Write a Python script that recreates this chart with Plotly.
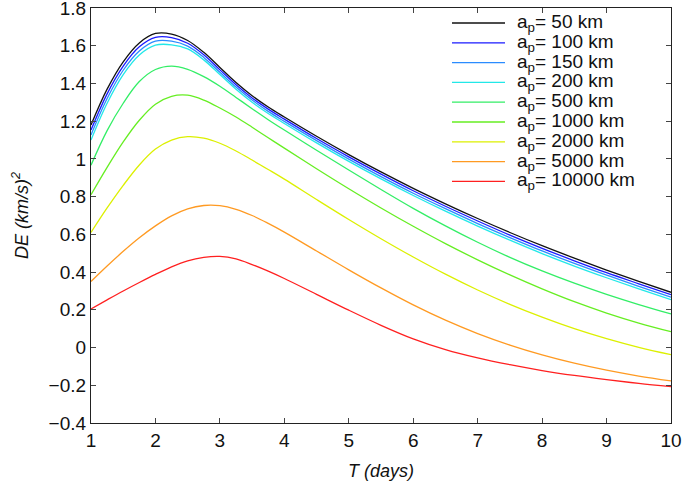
import plotly.graph_objects as go

T = [1, 1.25, 1.5, 1.75, 2, 2.25, 2.5, 2.75, 3, 3.25, 3.5, 3.75, 4,
     4.5, 5, 5.5, 6, 6.5, 7, 7.5, 8, 8.5, 9, 9.5, 10]

de_50 = [1.18, 1.37, 1.515, 1.615, 1.665, 1.662, 1.628, 1.565, 1.485, 1.405, 1.335, 1.275, 1.222,
         1.120, 1.023, 0.931, 0.844, 0.762, 0.684, 0.610, 0.540, 0.474, 0.411, 0.351, 0.293]
de_100 = [1.153, 1.345, 1.492, 1.594, 1.644, 1.643, 1.613, 1.552, 1.472, 1.393, 1.323, 1.264, 1.211,
          1.108, 1.011, 0.919, 0.831, 0.749, 0.671, 0.596, 0.526, 0.460, 0.397, 0.338, 0.280]
de_150 = [1.127, 1.320, 1.470, 1.572, 1.624, 1.624, 1.598, 1.538, 1.459, 1.381, 1.312, 1.252, 1.199,
          1.097, 0.999, 0.906, 0.818, 0.736, 0.657, 0.583, 0.512, 0.446, 0.384, 0.324, 0.267]
de_200 = [1.100, 1.295, 1.447, 1.551, 1.603, 1.605, 1.583, 1.525, 1.447, 1.369, 1.300, 1.241, 1.188,
          1.085, 0.987, 0.894, 0.806, 0.723, 0.644, 0.569, 0.498, 0.432, 0.370, 0.311, 0.254]
de_500 = [0.967, 1.15, 1.295, 1.41, 1.474, 1.492, 1.475, 1.436, 1.385, 1.326, 1.266, 1.208, 1.153,
          1.046, 0.941, 0.838, 0.738, 0.645, 0.558, 0.478, 0.406, 0.341, 0.282, 0.228, 0.178]
de_1000 = [0.81, 0.955, 1.09, 1.205, 1.29, 1.332, 1.338, 1.312, 1.270, 1.222, 1.168, 1.112, 1.057,
           0.948, 0.842, 0.740, 0.643, 0.551, 0.465, 0.385, 0.311, 0.243, 0.183, 0.130, 0.084]
de_2000 = [0.61, 0.74, 0.86, 0.968, 1.052, 1.100, 1.118, 1.110, 1.083, 1.042, 0.994, 0.944, 0.893,
           0.785, 0.679, 0.577, 0.480, 0.389, 0.305, 0.229, 0.161, 0.100, 0.047, 0.001, -0.038]
de_5000 = [0.35, 0.432, 0.51, 0.582, 0.645, 0.698, 0.735, 0.753, 0.752, 0.733, 0.700, 0.658, 0.612,
           0.512, 0.412, 0.316, 0.226, 0.145, 0.074, 0.013, -0.039, -0.083, -0.120, -0.151, -0.177]
de_10000 = [0.205, 0.253, 0.30, 0.345, 0.388, 0.428, 0.460, 0.478, 0.483, 0.470, 0.440, 0.405, 0.366,
            0.282, 0.198, 0.118, 0.046, -0.011, -0.055, -0.091, -0.122, -0.148, -0.170, -0.190, -0.207]

labels = ["50", "100", "150", "200", "500", "1000", "2000", "5000", "10000"]
series = [de_50, de_100, de_150, de_200, de_500, de_1000, de_2000, de_5000, de_10000]
colors = ["#111111", "#1a1aff", "#2a8cff", "#22e8e8", "#33ee66", "#66ee22",
          "#dcf000", "#ff9a22", "#ff2020"]

y_ticks = [-0.4, -0.2, 0, 0.2, 0.4, 0.6, 0.8, 1, 1.2, 1.4, 1.6, 1.8]
y_ticktext = ["\u22120.4", "\u22120.2", "0", "0.2", "0.4", "0.6", "0.8", "1", "1.2", "1.4", "1.6", "1.8"]
x_ticks = [1, 2, 3, 4, 5, 6, 7, 8, 9, 10]

W, H = 685, 484
ML, MR, MT, MB = 91, 14, 8, 61
PW, PH = W - ML - MR, H - MT - MB

fig = go.Figure()
for lab, ys, c in zip(labels, series, colors):
    fig.add_trace(go.Scatter(
        x=T, y=ys, mode="lines",
        line=dict(color=c, width=1.3, shape="spline", smoothing=1.0),
        name=f"a<sub>p</sub>= {lab} km", showlegend=False,
    ))

font_family = "Liberation Sans, Arial, Helvetica, sans-serif"

# key (legend) drawn at the top right, one row per series
shapes, annotations = [], []
for i, (lab, c) in enumerate(zip(labels, colors)):
    py = 23 + i * 19.8
    yp = (H - MB - py) / PH
    shapes.append(dict(type="line", xref="paper", yref="paper",
                       x0=(452 - ML) / PW, x1=(505 - ML) / PW, y0=yp, y1=yp,
                       line=dict(color=c, width=1.3)))
    annotations.append(dict(xref="paper", yref="paper", x=(515 - ML) / PW, y=yp,
                            xanchor="left", yanchor="middle", showarrow=False,
                            text=f"a<sub>p</sub>= {lab} km",
                            font=dict(family=font_family, size=19, color="#111111")))

axis_common = dict(
    showline=True, linecolor="#222222", linewidth=1.2, mirror="ticks",
    ticks="inside", ticklen=5, tickcolor="#444444", tickwidth=1,
    showgrid=False, zeroline=False, ticklabeloverflow="allow",
    tickfont=dict(family=font_family, size=19, color="#111111"),
)

fig.update_layout(
    width=W, height=H,
    margin=dict(l=ML, r=MR, t=MT, b=MB, autoexpand=False),
    paper_bgcolor="white", plot_bgcolor="white",
    font=dict(family=font_family, color="#111111"),
    xaxis=dict(range=[1, 10], tickvals=x_ticks, **axis_common,
               title=dict(text="<i>T (days)</i>", font=dict(size=18), standoff=14)),
    yaxis=dict(range=[-0.4, 1.8], tickvals=y_ticks, ticktext=y_ticktext, **axis_common,
               title=dict(text="<i>DE (km/s)<sup>2</sup></i>", font=dict(size=18), standoff=15)),
    shapes=shapes, annotations=annotations,
    showlegend=False,
)

fig.write_html("out.html", config={"displayModeBar": False},
               post_script="document.body.style.margin='0';document.body.style.overflow='hidden';")
